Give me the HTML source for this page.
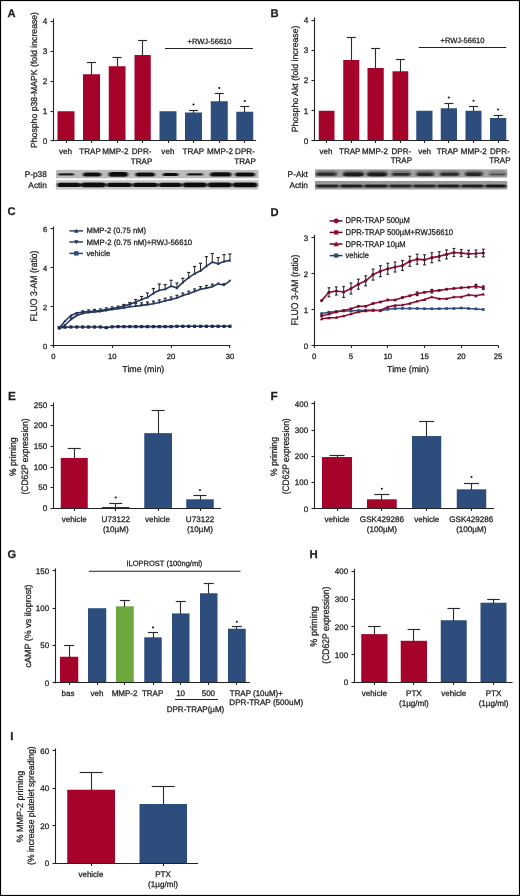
<!DOCTYPE html>
<html><head><meta charset="utf-8"><title>Figure</title>
<style>
html,body{margin:0;padding:0;background:#fff;}
body{width:520px;height:896px;overflow:hidden;}
svg{display:block;will-change:transform;}
text{font-family:"Liberation Sans", sans-serif;fill:#1e1e1e;stroke:#1e1e1e;stroke-width:0.26px;text-rendering:geometricPrecision;}
</style></head>
<body>
<svg width="520" height="896" viewBox="0 0 520 896">
<defs><filter id="bl" x="-10%" y="-60%" width="120%" height="220%"><feGaussianBlur stdDeviation="0.9 0.7"/></filter></defs>
<rect x="0" y="0" width="520" height="896" fill="#fff"/>
<text x="7.50" y="17.00" font-size="11.2" font-weight="bold">A</text>
<line x1="53.50" y1="18.50" x2="53.50" y2="141.25" stroke="#222" stroke-width="1.1"/>
<line x1="50.50" y1="21.50" x2="53.50" y2="21.50" stroke="#222" stroke-width="1.1"/>
<text x="47.20" y="23.90" font-size="8.2" text-anchor="end">4</text>
<line x1="50.50" y1="51.50" x2="53.50" y2="51.50" stroke="#222" stroke-width="1.1"/>
<text x="47.20" y="53.90" font-size="8.2" text-anchor="end">3</text>
<line x1="50.50" y1="81.50" x2="53.50" y2="81.50" stroke="#222" stroke-width="1.1"/>
<text x="47.20" y="83.90" font-size="8.2" text-anchor="end">2</text>
<line x1="50.50" y1="111.50" x2="53.50" y2="111.50" stroke="#222" stroke-width="1.1"/>
<text x="47.20" y="113.90" font-size="8.2" text-anchor="end">1</text>
<line x1="50.50" y1="140.50" x2="53.50" y2="140.50" stroke="#222" stroke-width="1.1"/>
<text x="47.20" y="143.65" font-size="8.2" text-anchor="end">0</text>
<rect x="57.50" y="111.25" width="17.00" height="29.50" fill="#a5032a"/>
<rect x="83.00" y="74.25" width="17.00" height="66.50" fill="#a5032a"/>
<line x1="91.50" y1="62.50" x2="91.50" y2="74.75" stroke="#2a2a2a" stroke-width="1.1"/>
<line x1="87.00" y1="62.50" x2="96.00" y2="62.50" stroke="#2a2a2a" stroke-width="1.15"/>
<rect x="108.75" y="66.25" width="16.75" height="74.50" fill="#a5032a"/>
<line x1="117.50" y1="57.50" x2="117.50" y2="66.75" stroke="#2a2a2a" stroke-width="1.1"/>
<line x1="112.62" y1="57.50" x2="121.62" y2="57.50" stroke="#2a2a2a" stroke-width="1.15"/>
<rect x="134.50" y="55.00" width="16.25" height="85.75" fill="#a5032a"/>
<line x1="142.50" y1="40.50" x2="142.50" y2="55.50" stroke="#2a2a2a" stroke-width="1.1"/>
<line x1="138.12" y1="40.50" x2="147.12" y2="40.50" stroke="#2a2a2a" stroke-width="1.15"/>
<rect x="159.50" y="111.25" width="17.00" height="29.50" fill="#2d4e7d"/>
<rect x="185.00" y="112.50" width="17.00" height="28.25" fill="#2d4e7d"/>
<line x1="193.50" y1="110.50" x2="193.50" y2="113.00" stroke="#2a2a2a" stroke-width="1.1"/>
<line x1="189.00" y1="110.50" x2="198.00" y2="110.50" stroke="#2a2a2a" stroke-width="1.15"/>
<circle cx="193.50" cy="104.50" r="1.1" fill="#1e1e1e"/>
<rect x="210.75" y="101.25" width="17.00" height="39.50" fill="#2d4e7d"/>
<line x1="219.50" y1="93.50" x2="219.50" y2="101.75" stroke="#2a2a2a" stroke-width="1.1"/>
<line x1="214.75" y1="93.50" x2="223.75" y2="93.50" stroke="#2a2a2a" stroke-width="1.15"/>
<circle cx="219.25" cy="88.00" r="1.1" fill="#1e1e1e"/>
<rect x="236.25" y="111.75" width="17.00" height="29.00" fill="#2d4e7d"/>
<line x1="244.50" y1="106.50" x2="244.50" y2="112.25" stroke="#2a2a2a" stroke-width="1.1"/>
<line x1="240.25" y1="106.50" x2="249.25" y2="106.50" stroke="#2a2a2a" stroke-width="1.15"/>
<circle cx="244.75" cy="101.00" r="1.1" fill="#1e1e1e"/>
<line x1="53.00" y1="140.50" x2="256.00" y2="140.50" stroke="#222" stroke-width="1.1"/>
<line x1="66.50" y1="140.50" x2="66.50" y2="143.00" stroke="#222" stroke-width="1.1"/>
<line x1="91.50" y1="140.50" x2="91.50" y2="143.00" stroke="#222" stroke-width="1.1"/>
<line x1="117.50" y1="140.50" x2="117.50" y2="143.00" stroke="#222" stroke-width="1.1"/>
<line x1="142.50" y1="140.50" x2="142.50" y2="143.00" stroke="#222" stroke-width="1.1"/>
<line x1="168.50" y1="140.50" x2="168.50" y2="143.00" stroke="#222" stroke-width="1.1"/>
<line x1="193.50" y1="140.50" x2="193.50" y2="143.00" stroke="#222" stroke-width="1.1"/>
<line x1="219.50" y1="140.50" x2="219.50" y2="143.00" stroke="#222" stroke-width="1.1"/>
<line x1="244.50" y1="140.50" x2="244.50" y2="143.00" stroke="#222" stroke-width="1.1"/>
<text x="37.10" y="80.00" font-size="8.8" text-anchor="middle" textLength="136" lengthAdjust="spacingAndGlyphs" transform="rotate(-90 37.10 80.00)">Phospho p38-MAPK (fold increase)</text>
<line x1="165.00" y1="48.50" x2="253.00" y2="48.50" stroke="#222" stroke-width="1.05"/>
<text x="209.50" y="43.60" font-size="7.6" text-anchor="middle" textLength="44" lengthAdjust="spacingAndGlyphs">+RWJ-56610</text>
<text x="65.50" y="154.00" font-size="8.1" text-anchor="middle">veh</text>
<text x="90.00" y="154.00" font-size="8.1" text-anchor="middle">TRAP</text>
<text x="115.40" y="154.00" font-size="8.1" text-anchor="middle">MMP-2</text>
<text x="141.60" y="154.00" font-size="8.1" text-anchor="middle">DPR-</text>
<text x="141.60" y="163.80" font-size="8.1" text-anchor="middle">TRAP</text>
<text x="167.90" y="154.00" font-size="8.1" text-anchor="middle">veh</text>
<text x="193.30" y="154.00" font-size="8.1" text-anchor="middle">TRAP</text>
<text x="220.00" y="154.00" font-size="8.1" text-anchor="middle">MMP-2</text>
<text x="245.00" y="154.00" font-size="8.1" text-anchor="middle">DPR-</text>
<text x="245.00" y="163.80" font-size="8.1" text-anchor="middle">TRAP</text>
<rect x="56.00" y="169.90" width="202.50" height="8.40" fill="#bcbcbc"/>
<g filter="url(#bl)">
<rect x="58.00" y="173.30" width="16.20" height="2.20" rx="1.76" ry="1.10" fill="#111" fill-opacity="0.9"/>
<rect x="82.90" y="172.40" width="18.40" height="4.00" rx="3.20" ry="2.00" fill="#111" fill-opacity="1"/>
<rect x="108.50" y="172.10" width="19.50" height="4.60" rx="3.68" ry="2.30" fill="#111" fill-opacity="1"/>
<rect x="135.50" y="172.40" width="19.50" height="4.00" rx="3.20" ry="2.00" fill="#111" fill-opacity="1"/>
<rect x="162.50" y="172.90" width="16.10" height="3.00" rx="2.40" ry="1.50" fill="#111" fill-opacity="1"/>
<rect x="187.00" y="173.20" width="16.00" height="2.40" rx="1.92" ry="1.20" fill="#111" fill-opacity="0.95"/>
<rect x="210.00" y="172.20" width="21.50" height="4.40" rx="3.52" ry="2.20" fill="#111" fill-opacity="1"/>
<rect x="235.00" y="172.40" width="20.00" height="4.00" rx="3.20" ry="2.00" fill="#111" fill-opacity="1"/>
</g>
<rect x="56.00" y="180.20" width="202.50" height="9.40" fill="#c8c8c8"/>
<g filter="url(#bl)">
<rect x="57.00" y="182.70" width="24.00" height="4.40" rx="3.52" ry="2.20" fill="#111" fill-opacity="1"/>
<rect x="81.00" y="182.50" width="25.00" height="4.80" rx="3.84" ry="2.40" fill="#111" fill-opacity="1"/>
<rect x="106.50" y="182.70" width="25.50" height="4.40" rx="3.52" ry="2.20" fill="#111" fill-opacity="1"/>
<rect x="132.50" y="182.70" width="25.50" height="4.40" rx="3.52" ry="2.20" fill="#111" fill-opacity="1"/>
<rect x="158.50" y="182.70" width="23.50" height="4.40" rx="3.52" ry="2.20" fill="#111" fill-opacity="1"/>
<rect x="182.50" y="182.50" width="24.50" height="4.80" rx="3.84" ry="2.40" fill="#111" fill-opacity="1"/>
<rect x="207.50" y="182.60" width="24.50" height="4.60" rx="3.68" ry="2.30" fill="#111" fill-opacity="1"/>
<rect x="232.50" y="182.50" width="25.00" height="4.80" rx="3.84" ry="2.40" fill="#111" fill-opacity="1"/>
</g>
<text x="46.80" y="176.50" font-size="8.3" text-anchor="end">P-p38</text>
<text x="46.80" y="187.90" font-size="8.3" text-anchor="end">Actin</text>
<text x="270.60" y="17.00" font-size="11.2" font-weight="bold">B</text>
<line x1="314.50" y1="17.50" x2="314.50" y2="141.25" stroke="#222" stroke-width="1.1"/>
<line x1="311.50" y1="20.50" x2="314.50" y2="20.50" stroke="#222" stroke-width="1.1"/>
<text x="308.20" y="22.90" font-size="8.2" text-anchor="end">4</text>
<line x1="311.50" y1="50.50" x2="314.50" y2="50.50" stroke="#222" stroke-width="1.1"/>
<text x="308.20" y="53.10" font-size="8.2" text-anchor="end">3</text>
<line x1="311.50" y1="80.50" x2="314.50" y2="80.50" stroke="#222" stroke-width="1.1"/>
<text x="308.20" y="83.30" font-size="8.2" text-anchor="end">2</text>
<line x1="311.50" y1="110.50" x2="314.50" y2="110.50" stroke="#222" stroke-width="1.1"/>
<text x="308.20" y="113.50" font-size="8.2" text-anchor="end">1</text>
<line x1="311.50" y1="140.50" x2="314.50" y2="140.50" stroke="#222" stroke-width="1.1"/>
<text x="308.20" y="143.65" font-size="8.2" text-anchor="end">0</text>
<rect x="318.75" y="110.75" width="15.75" height="30.00" fill="#a5032a"/>
<rect x="343.25" y="60.00" width="16.00" height="80.75" fill="#a5032a"/>
<line x1="351.50" y1="37.50" x2="351.50" y2="60.50" stroke="#2a2a2a" stroke-width="1.1"/>
<line x1="346.75" y1="37.50" x2="355.75" y2="37.50" stroke="#2a2a2a" stroke-width="1.15"/>
<rect x="367.50" y="68.00" width="16.25" height="72.75" fill="#a5032a"/>
<line x1="375.50" y1="48.50" x2="375.50" y2="68.50" stroke="#2a2a2a" stroke-width="1.1"/>
<line x1="371.12" y1="48.50" x2="380.12" y2="48.50" stroke="#2a2a2a" stroke-width="1.15"/>
<rect x="392.50" y="71.25" width="15.75" height="69.50" fill="#a5032a"/>
<line x1="400.50" y1="59.50" x2="400.50" y2="71.75" stroke="#2a2a2a" stroke-width="1.1"/>
<line x1="395.88" y1="59.50" x2="404.88" y2="59.50" stroke="#2a2a2a" stroke-width="1.15"/>
<rect x="416.25" y="110.75" width="16.25" height="30.00" fill="#2d4e7d"/>
<rect x="440.75" y="108.25" width="16.25" height="32.50" fill="#2d4e7d"/>
<line x1="448.50" y1="103.50" x2="448.50" y2="108.75" stroke="#2a2a2a" stroke-width="1.1"/>
<line x1="444.38" y1="103.50" x2="453.38" y2="103.50" stroke="#2a2a2a" stroke-width="1.15"/>
<circle cx="448.88" cy="97.50" r="1.1" fill="#1e1e1e"/>
<rect x="465.50" y="110.75" width="16.00" height="30.00" fill="#2d4e7d"/>
<line x1="473.50" y1="106.50" x2="473.50" y2="111.25" stroke="#2a2a2a" stroke-width="1.1"/>
<line x1="469.00" y1="106.50" x2="478.00" y2="106.50" stroke="#2a2a2a" stroke-width="1.15"/>
<circle cx="473.50" cy="100.75" r="1.1" fill="#1e1e1e"/>
<rect x="490.00" y="118.00" width="16.25" height="22.75" fill="#2d4e7d"/>
<line x1="498.50" y1="115.50" x2="498.50" y2="118.50" stroke="#2a2a2a" stroke-width="1.1"/>
<line x1="493.62" y1="115.50" x2="502.62" y2="115.50" stroke="#2a2a2a" stroke-width="1.15"/>
<circle cx="498.12" cy="109.50" r="1.1" fill="#1e1e1e"/>
<line x1="314.00" y1="140.50" x2="509.00" y2="140.50" stroke="#222" stroke-width="1.1"/>
<line x1="326.50" y1="140.50" x2="326.50" y2="143.00" stroke="#222" stroke-width="1.1"/>
<line x1="351.50" y1="140.50" x2="351.50" y2="143.00" stroke="#222" stroke-width="1.1"/>
<line x1="375.50" y1="140.50" x2="375.50" y2="143.00" stroke="#222" stroke-width="1.1"/>
<line x1="400.50" y1="140.50" x2="400.50" y2="143.00" stroke="#222" stroke-width="1.1"/>
<line x1="424.50" y1="140.50" x2="424.50" y2="143.00" stroke="#222" stroke-width="1.1"/>
<line x1="448.50" y1="140.50" x2="448.50" y2="143.00" stroke="#222" stroke-width="1.1"/>
<line x1="473.50" y1="140.50" x2="473.50" y2="143.00" stroke="#222" stroke-width="1.1"/>
<line x1="498.50" y1="140.50" x2="498.50" y2="143.00" stroke="#222" stroke-width="1.1"/>
<text x="298.10" y="78.90" font-size="8.9" text-anchor="middle" textLength="106.8" lengthAdjust="spacingAndGlyphs" transform="rotate(-90 298.10 78.90)">Phospho Akt (fold increase)</text>
<line x1="418.75" y1="47.50" x2="506.25" y2="47.50" stroke="#222" stroke-width="1.05"/>
<text x="462.50" y="42.80" font-size="7.6" text-anchor="middle" textLength="44" lengthAdjust="spacingAndGlyphs">+RWJ-56610</text>
<text x="325.90" y="153.80" font-size="8.0" text-anchor="middle">veh</text>
<text x="349.70" y="153.80" font-size="8.0" text-anchor="middle">TRAP</text>
<text x="375.00" y="153.80" font-size="8.0" text-anchor="middle">MMP-2</text>
<text x="401.30" y="153.80" font-size="8.0" text-anchor="middle">DPR-</text>
<text x="401.30" y="163.20" font-size="8.0" text-anchor="middle">TRAP</text>
<text x="424.60" y="153.80" font-size="8.0" text-anchor="middle">veh</text>
<text x="447.40" y="153.80" font-size="8.0" text-anchor="middle">TRAP</text>
<text x="473.70" y="153.80" font-size="8.0" text-anchor="middle">MMP-2</text>
<text x="499.80" y="153.80" font-size="8.0" text-anchor="middle">DPR-</text>
<text x="499.80" y="163.20" font-size="8.0" text-anchor="middle">TRAP</text>
<rect x="315.00" y="169.30" width="192.20" height="8.30" fill="#a4a4a4"/>
<g filter="url(#bl)">
<rect x="316.00" y="170.60" width="22.00" height="6.00" rx="4.80" ry="3.00" fill="#222" fill-opacity="0.35"/>
<rect x="342.50" y="170.60" width="22.00" height="6.00" rx="4.80" ry="3.00" fill="#222" fill-opacity="0.4"/>
<rect x="366.50" y="170.60" width="21.50" height="6.00" rx="4.80" ry="3.00" fill="#222" fill-opacity="0.4"/>
<rect x="391.00" y="170.60" width="20.50" height="6.00" rx="4.80" ry="3.00" fill="#222" fill-opacity="0.3"/>
<rect x="415.50" y="170.60" width="19.50" height="6.00" rx="4.80" ry="3.00" fill="#222" fill-opacity="0.35"/>
<rect x="439.00" y="170.60" width="21.00" height="6.00" rx="4.80" ry="3.00" fill="#222" fill-opacity="0.3"/>
<rect x="464.50" y="170.60" width="19.00" height="6.00" rx="4.80" ry="3.00" fill="#222" fill-opacity="0.35"/>
<rect x="488.50" y="170.60" width="18.00" height="6.00" rx="4.80" ry="3.00" fill="#222" fill-opacity="0.2"/>
</g>
<g>
<g filter="url(#bl)">
<rect x="316.00" y="172.80" width="20.00" height="3.00" rx="2.40" ry="1.50" fill="#151515" fill-opacity="0.75"/>
<rect x="343.40" y="172.40" width="20.10" height="3.80" rx="3.04" ry="1.90" fill="#151515" fill-opacity="0.95"/>
<rect x="367.30" y="172.40" width="19.40" height="3.80" rx="3.04" ry="1.90" fill="#151515" fill-opacity="0.95"/>
<rect x="392.00" y="172.90" width="18.30" height="2.80" rx="2.24" ry="1.40" fill="#151515" fill-opacity="0.75"/>
<rect x="416.60" y="172.70" width="17.00" height="3.20" rx="2.56" ry="1.60" fill="#151515" fill-opacity="0.8"/>
<rect x="440.00" y="172.80" width="19.00" height="3.00" rx="2.40" ry="1.50" fill="#151515" fill-opacity="0.75"/>
<rect x="465.30" y="172.60" width="16.90" height="3.40" rx="2.72" ry="1.70" fill="#151515" fill-opacity="0.85"/>
<rect x="489.60" y="173.40" width="15.90" height="1.80" rx="1.44" ry="0.90" fill="#151515" fill-opacity="0.55"/>
</g>
</g>
<rect x="315.00" y="181.00" width="192.20" height="8.50" fill="#999999"/>
<g filter="url(#bl)">
<rect x="316.00" y="184.60" width="23.00" height="2.80" rx="2.24" ry="1.40" fill="#101010" fill-opacity="0.85"/>
<rect x="340.00" y="184.50" width="23.00" height="3.00" rx="2.40" ry="1.50" fill="#101010" fill-opacity="0.9"/>
<rect x="364.00" y="184.50" width="24.00" height="3.00" rx="2.40" ry="1.50" fill="#101010" fill-opacity="0.9"/>
<rect x="389.00" y="184.60" width="23.00" height="2.80" rx="2.24" ry="1.40" fill="#101010" fill-opacity="0.85"/>
<rect x="413.00" y="184.60" width="23.00" height="2.80" rx="2.24" ry="1.40" fill="#101010" fill-opacity="0.85"/>
<rect x="437.00" y="184.50" width="23.00" height="3.00" rx="2.40" ry="1.50" fill="#101010" fill-opacity="0.9"/>
<rect x="461.00" y="184.50" width="23.00" height="3.00" rx="2.40" ry="1.50" fill="#101010" fill-opacity="0.9"/>
<rect x="485.00" y="184.40" width="21.50" height="3.20" rx="2.56" ry="1.60" fill="#101010" fill-opacity="0.95"/>
</g>
<text x="307.90" y="176.70" font-size="8.3" text-anchor="end">P-Akt</text>
<text x="307.90" y="187.70" font-size="8.3" text-anchor="end">Actin</text>
<text x="7.40" y="215.00" font-size="11.2" font-weight="bold">C</text>
<line x1="53.50" y1="226.40" x2="53.50" y2="346.10" stroke="#222" stroke-width="1.1"/>
<line x1="50.50" y1="228.50" x2="53.50" y2="228.50" stroke="#222" stroke-width="1.1"/>
<text x="47.20" y="231.80" font-size="7.5" text-anchor="end">6</text>
<line x1="50.50" y1="267.50" x2="53.50" y2="267.50" stroke="#222" stroke-width="1.1"/>
<text x="47.20" y="270.70" font-size="7.5" text-anchor="end">4</text>
<line x1="50.50" y1="306.50" x2="53.50" y2="306.50" stroke="#222" stroke-width="1.1"/>
<text x="47.20" y="309.60" font-size="7.5" text-anchor="end">2</text>
<line x1="50.50" y1="345.50" x2="53.50" y2="345.50" stroke="#222" stroke-width="1.1"/>
<text x="47.20" y="348.50" font-size="7.5" text-anchor="end">0</text>
<line x1="53.00" y1="345.50" x2="230.45" y2="345.50" stroke="#222" stroke-width="1.1"/>
<line x1="53.50" y1="345.50" x2="53.50" y2="348.00" stroke="#222" stroke-width="1.1"/>
<line x1="112.50" y1="345.50" x2="112.50" y2="348.00" stroke="#222" stroke-width="1.1"/>
<line x1="171.50" y1="345.50" x2="171.50" y2="348.00" stroke="#222" stroke-width="1.1"/>
<line x1="229.50" y1="345.50" x2="229.50" y2="348.00" stroke="#222" stroke-width="1.1"/>
<text x="53.25" y="358.60" font-size="7.6" text-anchor="middle">0</text>
<text x="112.15" y="358.60" font-size="7.6" text-anchor="middle">10</text>
<text x="171.05" y="358.60" font-size="7.6" text-anchor="middle">20</text>
<text x="229.95" y="358.60" font-size="7.6" text-anchor="middle">30</text>
<text x="143.30" y="372.20" font-size="8.7" text-anchor="middle" textLength="42.0" lengthAdjust="spacingAndGlyphs">Time (min)</text>
<text x="36.90" y="286.00" font-size="9.7" text-anchor="middle" textLength="71" lengthAdjust="spacingAndGlyphs" transform="rotate(-90 36.90 286.00)">FLUO 3-AM (ratio)</text>
<polyline points="59.14,327.60 65.03,327.20 70.92,327.00 76.81,327.00 82.70,327.00 88.59,327.00 94.48,327.00 100.37,327.00 106.26,327.60 112.15,326.80 118.04,326.60 123.93,326.60 129.82,326.60 135.71,326.60 141.60,326.60 147.49,326.60 153.38,326.60 159.27,326.60 165.16,326.60 171.05,326.60 176.94,326.30 182.83,326.30 188.72,326.30 194.61,326.30 200.50,326.30 206.39,326.30 212.28,326.30 218.17,326.30 224.06,326.30 229.95,326.30" fill="none" stroke="#22345a" stroke-width="1.6" stroke-linejoin="round"/>
<rect x="57.52" y="325.99" width="3.23" height="3.23" fill="#1f2e50"/>
<rect x="63.41" y="325.58" width="3.23" height="3.23" fill="#1f2e50"/>
<rect x="69.31" y="325.38" width="3.23" height="3.23" fill="#1f2e50"/>
<rect x="75.20" y="325.38" width="3.23" height="3.23" fill="#1f2e50"/>
<rect x="81.09" y="325.38" width="3.23" height="3.23" fill="#1f2e50"/>
<rect x="86.98" y="325.38" width="3.23" height="3.23" fill="#1f2e50"/>
<rect x="92.86" y="325.38" width="3.23" height="3.23" fill="#1f2e50"/>
<rect x="98.76" y="325.38" width="3.23" height="3.23" fill="#1f2e50"/>
<rect x="104.64" y="325.99" width="3.23" height="3.23" fill="#1f2e50"/>
<rect x="110.54" y="325.19" width="3.23" height="3.23" fill="#1f2e50"/>
<rect x="116.42" y="324.99" width="3.23" height="3.23" fill="#1f2e50"/>
<rect x="122.31" y="324.99" width="3.23" height="3.23" fill="#1f2e50"/>
<rect x="128.20" y="324.99" width="3.23" height="3.23" fill="#1f2e50"/>
<rect x="134.09" y="324.99" width="3.23" height="3.23" fill="#1f2e50"/>
<rect x="139.98" y="324.99" width="3.23" height="3.23" fill="#1f2e50"/>
<rect x="145.88" y="324.99" width="3.23" height="3.23" fill="#1f2e50"/>
<rect x="151.76" y="324.99" width="3.23" height="3.23" fill="#1f2e50"/>
<rect x="157.65" y="324.99" width="3.23" height="3.23" fill="#1f2e50"/>
<rect x="163.54" y="324.99" width="3.23" height="3.23" fill="#1f2e50"/>
<rect x="169.44" y="324.99" width="3.23" height="3.23" fill="#1f2e50"/>
<rect x="175.32" y="324.69" width="3.23" height="3.23" fill="#1f2e50"/>
<rect x="181.21" y="324.69" width="3.23" height="3.23" fill="#1f2e50"/>
<rect x="187.10" y="324.69" width="3.23" height="3.23" fill="#1f2e50"/>
<rect x="192.99" y="324.69" width="3.23" height="3.23" fill="#1f2e50"/>
<rect x="198.88" y="324.69" width="3.23" height="3.23" fill="#1f2e50"/>
<rect x="204.77" y="324.69" width="3.23" height="3.23" fill="#1f2e50"/>
<rect x="210.66" y="324.69" width="3.23" height="3.23" fill="#1f2e50"/>
<rect x="216.55" y="324.69" width="3.23" height="3.23" fill="#1f2e50"/>
<rect x="222.44" y="324.69" width="3.23" height="3.23" fill="#1f2e50"/>
<rect x="228.33" y="324.69" width="3.23" height="3.23" fill="#1f2e50"/>
<line x1="70.92" y1="316.90" x2="70.92" y2="319.50" stroke="#2a2a2a" stroke-width="1.05"/>
<line x1="69.42" y1="316.90" x2="72.42" y2="316.90" stroke="#2a2a2a" stroke-width="1.2"/>
<line x1="76.81" y1="312.90" x2="76.81" y2="315.50" stroke="#2a2a2a" stroke-width="1.05"/>
<line x1="75.31" y1="312.90" x2="78.31" y2="312.90" stroke="#2a2a2a" stroke-width="1.2"/>
<line x1="82.70" y1="310.90" x2="82.70" y2="313.50" stroke="#2a2a2a" stroke-width="1.05"/>
<line x1="81.20" y1="310.90" x2="84.20" y2="310.90" stroke="#2a2a2a" stroke-width="1.2"/>
<line x1="88.59" y1="309.90" x2="88.59" y2="312.50" stroke="#2a2a2a" stroke-width="1.05"/>
<line x1="87.09" y1="309.90" x2="90.09" y2="309.90" stroke="#2a2a2a" stroke-width="1.2"/>
<line x1="94.48" y1="309.40" x2="94.48" y2="312.00" stroke="#2a2a2a" stroke-width="1.05"/>
<line x1="92.98" y1="309.40" x2="95.98" y2="309.40" stroke="#2a2a2a" stroke-width="1.2"/>
<line x1="100.37" y1="308.90" x2="100.37" y2="311.50" stroke="#2a2a2a" stroke-width="1.05"/>
<line x1="98.87" y1="308.90" x2="101.87" y2="308.90" stroke="#2a2a2a" stroke-width="1.2"/>
<line x1="106.26" y1="307.90" x2="106.26" y2="310.50" stroke="#2a2a2a" stroke-width="1.05"/>
<line x1="104.76" y1="307.90" x2="107.76" y2="307.90" stroke="#2a2a2a" stroke-width="1.2"/>
<line x1="112.15" y1="306.90" x2="112.15" y2="309.50" stroke="#2a2a2a" stroke-width="1.05"/>
<line x1="110.65" y1="306.90" x2="113.65" y2="306.90" stroke="#2a2a2a" stroke-width="1.2"/>
<line x1="118.04" y1="306.10" x2="118.04" y2="308.70" stroke="#2a2a2a" stroke-width="1.05"/>
<line x1="116.54" y1="306.10" x2="119.54" y2="306.10" stroke="#2a2a2a" stroke-width="1.2"/>
<line x1="123.93" y1="305.30" x2="123.93" y2="307.90" stroke="#2a2a2a" stroke-width="1.05"/>
<line x1="122.43" y1="305.30" x2="125.43" y2="305.30" stroke="#2a2a2a" stroke-width="1.2"/>
<line x1="129.82" y1="304.20" x2="129.82" y2="306.80" stroke="#2a2a2a" stroke-width="1.05"/>
<line x1="128.32" y1="304.20" x2="131.32" y2="304.20" stroke="#2a2a2a" stroke-width="1.2"/>
<line x1="135.71" y1="303.60" x2="135.71" y2="306.20" stroke="#2a2a2a" stroke-width="1.05"/>
<line x1="134.21" y1="303.60" x2="137.21" y2="303.60" stroke="#2a2a2a" stroke-width="1.2"/>
<line x1="141.60" y1="302.80" x2="141.60" y2="305.40" stroke="#2a2a2a" stroke-width="1.05"/>
<line x1="140.10" y1="302.80" x2="143.10" y2="302.80" stroke="#2a2a2a" stroke-width="1.2"/>
<line x1="147.49" y1="302.00" x2="147.49" y2="304.60" stroke="#2a2a2a" stroke-width="1.05"/>
<line x1="145.99" y1="302.00" x2="148.99" y2="302.00" stroke="#2a2a2a" stroke-width="1.2"/>
<line x1="153.38" y1="301.10" x2="153.38" y2="303.70" stroke="#2a2a2a" stroke-width="1.05"/>
<line x1="151.88" y1="301.10" x2="154.88" y2="301.10" stroke="#2a2a2a" stroke-width="1.2"/>
<line x1="159.27" y1="299.90" x2="159.27" y2="302.50" stroke="#2a2a2a" stroke-width="1.05"/>
<line x1="157.77" y1="299.90" x2="160.77" y2="299.90" stroke="#2a2a2a" stroke-width="1.2"/>
<line x1="165.16" y1="298.20" x2="165.16" y2="300.80" stroke="#2a2a2a" stroke-width="1.05"/>
<line x1="163.66" y1="298.20" x2="166.66" y2="298.20" stroke="#2a2a2a" stroke-width="1.2"/>
<line x1="171.05" y1="297.00" x2="171.05" y2="299.60" stroke="#2a2a2a" stroke-width="1.05"/>
<line x1="169.55" y1="297.00" x2="172.55" y2="297.00" stroke="#2a2a2a" stroke-width="1.2"/>
<line x1="176.94" y1="295.30" x2="176.94" y2="297.90" stroke="#2a2a2a" stroke-width="1.05"/>
<line x1="175.44" y1="295.30" x2="178.44" y2="295.30" stroke="#2a2a2a" stroke-width="1.2"/>
<line x1="182.83" y1="293.00" x2="182.83" y2="295.60" stroke="#2a2a2a" stroke-width="1.05"/>
<line x1="181.33" y1="293.00" x2="184.33" y2="293.00" stroke="#2a2a2a" stroke-width="1.2"/>
<line x1="188.72" y1="291.20" x2="188.72" y2="293.80" stroke="#2a2a2a" stroke-width="1.05"/>
<line x1="187.22" y1="291.20" x2="190.22" y2="291.20" stroke="#2a2a2a" stroke-width="1.2"/>
<line x1="194.61" y1="288.90" x2="194.61" y2="291.50" stroke="#2a2a2a" stroke-width="1.05"/>
<line x1="193.11" y1="288.90" x2="196.11" y2="288.90" stroke="#2a2a2a" stroke-width="1.2"/>
<line x1="200.50" y1="286.60" x2="200.50" y2="289.20" stroke="#2a2a2a" stroke-width="1.05"/>
<line x1="199.00" y1="286.60" x2="202.00" y2="286.60" stroke="#2a2a2a" stroke-width="1.2"/>
<line x1="206.39" y1="285.50" x2="206.39" y2="288.10" stroke="#2a2a2a" stroke-width="1.05"/>
<line x1="204.89" y1="285.50" x2="207.89" y2="285.50" stroke="#2a2a2a" stroke-width="1.2"/>
<line x1="212.28" y1="284.10" x2="212.28" y2="286.70" stroke="#2a2a2a" stroke-width="1.05"/>
<line x1="210.78" y1="284.10" x2="213.78" y2="284.10" stroke="#2a2a2a" stroke-width="1.2"/>
<line x1="224.06" y1="283.70" x2="224.06" y2="285.20" stroke="#2a2a2a" stroke-width="1.05"/>
<line x1="222.56" y1="283.70" x2="225.56" y2="283.70" stroke="#2a2a2a" stroke-width="1.2"/>
<polyline points="59.14,329.00 65.03,325.00 70.92,319.50 76.81,315.50 82.70,313.50 88.59,312.50 94.48,312.00 100.37,311.50 106.26,310.50 112.15,309.50 118.04,308.70 123.93,307.90 129.82,306.80 135.71,306.20 141.60,305.40 147.49,304.60 153.38,303.70 159.27,302.50 165.16,300.80 171.05,299.60 176.94,297.90 182.83,295.60 188.72,293.80 194.61,291.50 200.50,289.20 206.39,288.10 212.28,286.70 218.17,283.70 224.06,285.20 229.95,280.90" fill="none" stroke="#23365d" stroke-width="1.6" stroke-linejoin="round"/>
<path d="M57.74 327.88L60.54 327.88L59.14 330.40Z" fill="#23365d"/>
<path d="M63.63 323.88L66.43 323.88L65.03 326.40Z" fill="#23365d"/>
<path d="M69.52 318.38L72.32 318.38L70.92 320.90Z" fill="#23365d"/>
<path d="M75.41 314.38L78.21 314.38L76.81 316.90Z" fill="#23365d"/>
<path d="M81.30 312.38L84.10 312.38L82.70 314.90Z" fill="#23365d"/>
<path d="M87.19 311.38L89.99 311.38L88.59 313.90Z" fill="#23365d"/>
<path d="M93.08 310.88L95.88 310.88L94.48 313.40Z" fill="#23365d"/>
<path d="M98.97 310.38L101.77 310.38L100.37 312.90Z" fill="#23365d"/>
<path d="M104.86 309.38L107.66 309.38L106.26 311.90Z" fill="#23365d"/>
<path d="M110.75 308.38L113.55 308.38L112.15 310.90Z" fill="#23365d"/>
<path d="M116.64 307.58L119.44 307.58L118.04 310.10Z" fill="#23365d"/>
<path d="M122.53 306.78L125.33 306.78L123.93 309.30Z" fill="#23365d"/>
<path d="M128.42 305.68L131.22 305.68L129.82 308.20Z" fill="#23365d"/>
<path d="M134.31 305.08L137.11 305.08L135.71 307.60Z" fill="#23365d"/>
<path d="M140.20 304.28L143.00 304.28L141.60 306.80Z" fill="#23365d"/>
<path d="M146.09 303.48L148.89 303.48L147.49 306.00Z" fill="#23365d"/>
<path d="M151.98 302.58L154.78 302.58L153.38 305.10Z" fill="#23365d"/>
<path d="M157.87 301.38L160.67 301.38L159.27 303.90Z" fill="#23365d"/>
<path d="M163.76 299.68L166.56 299.68L165.16 302.20Z" fill="#23365d"/>
<path d="M169.65 298.48L172.45 298.48L171.05 301.00Z" fill="#23365d"/>
<path d="M175.54 296.78L178.34 296.78L176.94 299.30Z" fill="#23365d"/>
<path d="M181.43 294.48L184.23 294.48L182.83 297.00Z" fill="#23365d"/>
<path d="M187.32 292.68L190.12 292.68L188.72 295.20Z" fill="#23365d"/>
<path d="M193.21 290.38L196.01 290.38L194.61 292.90Z" fill="#23365d"/>
<path d="M199.10 288.08L201.90 288.08L200.50 290.60Z" fill="#23365d"/>
<path d="M204.99 286.98L207.79 286.98L206.39 289.50Z" fill="#23365d"/>
<path d="M210.88 285.58L213.68 285.58L212.28 288.10Z" fill="#23365d"/>
<path d="M216.77 282.58L219.57 282.58L218.17 285.10Z" fill="#23365d"/>
<path d="M222.66 284.08L225.46 284.08L224.06 286.60Z" fill="#23365d"/>
<path d="M228.55 279.78L231.35 279.78L229.95 282.30Z" fill="#23365d"/>
<line x1="123.93" y1="304.50" x2="123.93" y2="306.00" stroke="#2a2a2a" stroke-width="1.05"/>
<line x1="122.33" y1="304.50" x2="125.53" y2="304.50" stroke="#2a2a2a" stroke-width="1.2"/>
<line x1="129.82" y1="302.50" x2="129.82" y2="304.20" stroke="#2a2a2a" stroke-width="1.05"/>
<line x1="128.22" y1="302.50" x2="131.42" y2="302.50" stroke="#2a2a2a" stroke-width="1.2"/>
<line x1="135.71" y1="299.50" x2="135.71" y2="301.90" stroke="#2a2a2a" stroke-width="1.05"/>
<line x1="134.11" y1="299.50" x2="137.31" y2="299.50" stroke="#2a2a2a" stroke-width="1.2"/>
<line x1="141.60" y1="296.50" x2="141.60" y2="299.40" stroke="#2a2a2a" stroke-width="1.05"/>
<line x1="140.00" y1="296.50" x2="143.20" y2="296.50" stroke="#2a2a2a" stroke-width="1.2"/>
<line x1="147.49" y1="293.00" x2="147.49" y2="297.30" stroke="#2a2a2a" stroke-width="1.05"/>
<line x1="145.89" y1="293.00" x2="149.09" y2="293.00" stroke="#2a2a2a" stroke-width="1.2"/>
<line x1="153.38" y1="288.50" x2="153.38" y2="293.30" stroke="#2a2a2a" stroke-width="1.05"/>
<line x1="151.78" y1="288.50" x2="154.98" y2="288.50" stroke="#2a2a2a" stroke-width="1.2"/>
<line x1="159.27" y1="284.00" x2="159.27" y2="290.20" stroke="#2a2a2a" stroke-width="1.05"/>
<line x1="157.67" y1="284.00" x2="160.87" y2="284.00" stroke="#2a2a2a" stroke-width="1.2"/>
<line x1="165.16" y1="284.60" x2="165.16" y2="289.20" stroke="#2a2a2a" stroke-width="1.05"/>
<line x1="163.56" y1="284.60" x2="166.76" y2="284.60" stroke="#2a2a2a" stroke-width="1.2"/>
<line x1="171.05" y1="280.30" x2="171.05" y2="286.10" stroke="#2a2a2a" stroke-width="1.05"/>
<line x1="169.45" y1="280.30" x2="172.65" y2="280.30" stroke="#2a2a2a" stroke-width="1.2"/>
<line x1="176.94" y1="283.00" x2="176.94" y2="288.10" stroke="#2a2a2a" stroke-width="1.05"/>
<line x1="175.34" y1="283.00" x2="178.54" y2="283.00" stroke="#2a2a2a" stroke-width="1.2"/>
<line x1="182.83" y1="278.30" x2="182.83" y2="282.30" stroke="#2a2a2a" stroke-width="1.05"/>
<line x1="181.23" y1="278.30" x2="184.43" y2="278.30" stroke="#2a2a2a" stroke-width="1.2"/>
<line x1="188.72" y1="272.50" x2="188.72" y2="277.70" stroke="#2a2a2a" stroke-width="1.05"/>
<line x1="187.12" y1="272.50" x2="190.32" y2="272.50" stroke="#2a2a2a" stroke-width="1.2"/>
<line x1="194.61" y1="266.50" x2="194.61" y2="273.70" stroke="#2a2a2a" stroke-width="1.05"/>
<line x1="193.01" y1="266.50" x2="196.21" y2="266.50" stroke="#2a2a2a" stroke-width="1.2"/>
<line x1="200.50" y1="263.30" x2="200.50" y2="270.80" stroke="#2a2a2a" stroke-width="1.05"/>
<line x1="198.90" y1="263.30" x2="202.10" y2="263.30" stroke="#2a2a2a" stroke-width="1.2"/>
<line x1="206.39" y1="256.70" x2="206.39" y2="266.20" stroke="#2a2a2a" stroke-width="1.05"/>
<line x1="204.79" y1="256.70" x2="207.99" y2="256.70" stroke="#2a2a2a" stroke-width="1.2"/>
<line x1="212.28" y1="253.50" x2="212.28" y2="262.10" stroke="#2a2a2a" stroke-width="1.05"/>
<line x1="210.68" y1="253.50" x2="213.88" y2="253.50" stroke="#2a2a2a" stroke-width="1.2"/>
<line x1="218.17" y1="257.50" x2="218.17" y2="263.80" stroke="#2a2a2a" stroke-width="1.05"/>
<line x1="216.57" y1="257.50" x2="219.77" y2="257.50" stroke="#2a2a2a" stroke-width="1.2"/>
<line x1="224.06" y1="254.60" x2="224.06" y2="261.50" stroke="#2a2a2a" stroke-width="1.05"/>
<line x1="222.46" y1="254.60" x2="225.66" y2="254.60" stroke="#2a2a2a" stroke-width="1.2"/>
<line x1="229.95" y1="254.00" x2="229.95" y2="260.40" stroke="#2a2a2a" stroke-width="1.05"/>
<line x1="228.35" y1="254.00" x2="231.55" y2="254.00" stroke="#2a2a2a" stroke-width="1.2"/>
<polyline points="59.14,328.00 65.03,321.00 70.92,315.50 76.81,313.00 82.70,312.00 88.59,311.50 94.48,311.00 100.37,310.50 106.26,309.50 112.15,308.50 118.04,307.50 123.93,306.00 129.82,304.20 135.71,301.90 141.60,299.40 147.49,297.30 153.38,293.30 159.27,290.20 165.16,289.20 171.05,286.10 176.94,288.10 182.83,282.30 188.72,277.70 194.61,273.70 200.50,270.80 206.39,266.20 212.28,262.10 218.17,263.80 224.06,261.50 229.95,260.40" fill="none" stroke="#23365d" stroke-width="1.6" stroke-linejoin="round"/>
<path d="M57.74 329.12L60.54 329.12L59.14 326.60Z" fill="#23365d"/>
<path d="M63.63 322.12L66.43 322.12L65.03 319.60Z" fill="#23365d"/>
<path d="M69.52 316.62L72.32 316.62L70.92 314.10Z" fill="#23365d"/>
<path d="M75.41 314.12L78.21 314.12L76.81 311.60Z" fill="#23365d"/>
<path d="M81.30 313.12L84.10 313.12L82.70 310.60Z" fill="#23365d"/>
<path d="M87.19 312.62L89.99 312.62L88.59 310.10Z" fill="#23365d"/>
<path d="M93.08 312.12L95.88 312.12L94.48 309.60Z" fill="#23365d"/>
<path d="M98.97 311.62L101.77 311.62L100.37 309.10Z" fill="#23365d"/>
<path d="M104.86 310.62L107.66 310.62L106.26 308.10Z" fill="#23365d"/>
<path d="M110.75 309.62L113.55 309.62L112.15 307.10Z" fill="#23365d"/>
<path d="M116.64 308.62L119.44 308.62L118.04 306.10Z" fill="#23365d"/>
<path d="M122.53 307.12L125.33 307.12L123.93 304.60Z" fill="#23365d"/>
<path d="M128.42 305.32L131.22 305.32L129.82 302.80Z" fill="#23365d"/>
<path d="M134.31 303.02L137.11 303.02L135.71 300.50Z" fill="#23365d"/>
<path d="M140.20 300.52L143.00 300.52L141.60 298.00Z" fill="#23365d"/>
<path d="M146.09 298.42L148.89 298.42L147.49 295.90Z" fill="#23365d"/>
<path d="M151.98 294.42L154.78 294.42L153.38 291.90Z" fill="#23365d"/>
<path d="M157.87 291.32L160.67 291.32L159.27 288.80Z" fill="#23365d"/>
<path d="M163.76 290.32L166.56 290.32L165.16 287.80Z" fill="#23365d"/>
<path d="M169.65 287.22L172.45 287.22L171.05 284.70Z" fill="#23365d"/>
<path d="M175.54 289.22L178.34 289.22L176.94 286.70Z" fill="#23365d"/>
<path d="M181.43 283.42L184.23 283.42L182.83 280.90Z" fill="#23365d"/>
<path d="M187.32 278.82L190.12 278.82L188.72 276.30Z" fill="#23365d"/>
<path d="M193.21 274.82L196.01 274.82L194.61 272.30Z" fill="#23365d"/>
<path d="M199.10 271.92L201.90 271.92L200.50 269.40Z" fill="#23365d"/>
<path d="M204.99 267.32L207.79 267.32L206.39 264.80Z" fill="#23365d"/>
<path d="M210.88 263.22L213.68 263.22L212.28 260.70Z" fill="#23365d"/>
<path d="M216.77 264.92L219.57 264.92L218.17 262.40Z" fill="#23365d"/>
<path d="M222.66 262.62L225.46 262.62L224.06 260.10Z" fill="#23365d"/>
<path d="M228.55 261.52L231.35 261.52L229.95 259.00Z" fill="#23365d"/>
<line x1="69.40" y1="230.90" x2="83.00" y2="230.90" stroke="#23365d" stroke-width="1.4"/>
<path d="M74.10 232.66L78.50 232.66L76.30 228.70Z" fill="#23365d"/>
<text x="86.60" y="233.40" font-size="7.8" textLength="59.5" lengthAdjust="spacingAndGlyphs">MMP-2 (0.75 nM)</text>
<line x1="69.40" y1="242.00" x2="83.00" y2="242.00" stroke="#23365d" stroke-width="1.4"/>
<path d="M74.10 240.24L78.50 240.24L76.30 244.20Z" fill="#23365d"/>
<text x="86.60" y="244.50" font-size="7.8" textLength="105.5" lengthAdjust="spacingAndGlyphs">MMP-2 (0.75 nM)+RWJ-56610</text>
<line x1="69.40" y1="253.40" x2="83.00" y2="253.40" stroke="#23365d" stroke-width="1.4"/>
<rect x="74.09" y="251.19" width="4.42" height="4.42" fill="#2d4e7d"/>
<text x="86.60" y="255.90" font-size="7.8" textLength="23.5" lengthAdjust="spacingAndGlyphs">vehicle</text>
<text x="270.60" y="216.00" font-size="11.2" font-weight="bold">D</text>
<line x1="314.50" y1="234.90" x2="314.50" y2="345.90" stroke="#222" stroke-width="1.1"/>
<line x1="311.50" y1="237.50" x2="314.50" y2="237.50" stroke="#222" stroke-width="1.1"/>
<text x="308.20" y="241.10" font-size="7.9" text-anchor="end">3</text>
<line x1="311.50" y1="273.50" x2="314.50" y2="273.50" stroke="#222" stroke-width="1.1"/>
<text x="308.20" y="277.10" font-size="7.9" text-anchor="end">2</text>
<line x1="311.50" y1="309.50" x2="314.50" y2="309.50" stroke="#222" stroke-width="1.1"/>
<text x="308.20" y="313.10" font-size="7.9" text-anchor="end">1</text>
<line x1="311.50" y1="345.50" x2="314.50" y2="345.50" stroke="#222" stroke-width="1.1"/>
<text x="308.20" y="349.10" font-size="7.9" text-anchor="end">0</text>
<line x1="314.00" y1="345.50" x2="498.50" y2="345.50" stroke="#222" stroke-width="1.1"/>
<line x1="314.50" y1="345.50" x2="314.50" y2="348.00" stroke="#222" stroke-width="1.1"/>
<line x1="351.50" y1="345.50" x2="351.50" y2="348.00" stroke="#222" stroke-width="1.1"/>
<line x1="387.50" y1="345.50" x2="387.50" y2="348.00" stroke="#222" stroke-width="1.1"/>
<line x1="424.50" y1="345.50" x2="424.50" y2="348.00" stroke="#222" stroke-width="1.1"/>
<line x1="461.50" y1="345.50" x2="461.50" y2="348.00" stroke="#222" stroke-width="1.1"/>
<line x1="498.50" y1="345.50" x2="498.50" y2="348.00" stroke="#222" stroke-width="1.1"/>
<text x="314.25" y="358.90" font-size="7.8" text-anchor="middle">0</text>
<text x="351.00" y="358.90" font-size="7.8" text-anchor="middle">5</text>
<text x="387.75" y="358.90" font-size="7.8" text-anchor="middle">10</text>
<text x="424.50" y="358.90" font-size="7.8" text-anchor="middle">15</text>
<text x="461.25" y="358.90" font-size="7.8" text-anchor="middle">20</text>
<text x="498.00" y="358.90" font-size="7.8" text-anchor="middle">25</text>
<text x="408.00" y="372.40" font-size="8.7" text-anchor="middle" textLength="41.8" lengthAdjust="spacingAndGlyphs">Time (min)</text>
<text x="298.00" y="290.00" font-size="9.7" text-anchor="middle" textLength="71" lengthAdjust="spacingAndGlyphs" transform="rotate(-90 298.00 290.00)">FLUO 3-AM (ratio)</text>
<polyline points="321.60,313.60 328.95,312.20 336.30,311.50 343.65,310.90 351.00,311.00 358.35,310.50 365.70,310.30 373.05,310.00 380.40,310.80 387.75,309.30 395.10,308.60 402.45,308.40 409.80,308.40 417.15,308.50 424.50,308.70 431.85,308.80 439.20,308.70 446.55,308.60 453.90,308.50 461.25,308.00 468.60,308.60 475.95,308.90 483.30,309.50" fill="none" stroke="#2d4e7d" stroke-width="1.5" stroke-linejoin="round"/>
<rect x="320.24" y="312.24" width="2.72" height="2.72" fill="#2d4e7d"/>
<rect x="327.59" y="310.84" width="2.72" height="2.72" fill="#2d4e7d"/>
<rect x="334.94" y="310.14" width="2.72" height="2.72" fill="#2d4e7d"/>
<rect x="342.29" y="309.54" width="2.72" height="2.72" fill="#2d4e7d"/>
<rect x="349.64" y="309.64" width="2.72" height="2.72" fill="#2d4e7d"/>
<rect x="356.99" y="309.14" width="2.72" height="2.72" fill="#2d4e7d"/>
<rect x="364.34" y="308.94" width="2.72" height="2.72" fill="#2d4e7d"/>
<rect x="371.69" y="308.64" width="2.72" height="2.72" fill="#2d4e7d"/>
<rect x="379.04" y="309.44" width="2.72" height="2.72" fill="#2d4e7d"/>
<rect x="386.39" y="307.94" width="2.72" height="2.72" fill="#2d4e7d"/>
<rect x="393.74" y="307.24" width="2.72" height="2.72" fill="#2d4e7d"/>
<rect x="401.09" y="307.04" width="2.72" height="2.72" fill="#2d4e7d"/>
<rect x="408.44" y="307.04" width="2.72" height="2.72" fill="#2d4e7d"/>
<rect x="415.79" y="307.14" width="2.72" height="2.72" fill="#2d4e7d"/>
<rect x="423.14" y="307.34" width="2.72" height="2.72" fill="#2d4e7d"/>
<rect x="430.49" y="307.44" width="2.72" height="2.72" fill="#2d4e7d"/>
<rect x="437.84" y="307.34" width="2.72" height="2.72" fill="#2d4e7d"/>
<rect x="445.19" y="307.24" width="2.72" height="2.72" fill="#2d4e7d"/>
<rect x="452.54" y="307.14" width="2.72" height="2.72" fill="#2d4e7d"/>
<rect x="459.89" y="306.64" width="2.72" height="2.72" fill="#2d4e7d"/>
<rect x="467.24" y="307.24" width="2.72" height="2.72" fill="#2d4e7d"/>
<rect x="474.59" y="307.54" width="2.72" height="2.72" fill="#2d4e7d"/>
<rect x="481.94" y="308.14" width="2.72" height="2.72" fill="#2d4e7d"/>
<polyline points="321.60,318.80 328.95,317.90 336.30,317.50 343.65,316.00 351.00,314.00 358.35,312.00 365.70,311.00 373.05,310.50 380.40,310.20 387.75,307.00 395.10,305.40 402.45,305.00 409.80,303.50 417.15,301.20 424.50,299.60 431.85,297.00 439.20,298.70 446.55,298.70 453.90,297.00 461.25,297.00 468.60,294.80 475.95,295.80 483.30,294.20" fill="none" stroke="#8e1034" stroke-width="1.6" stroke-linejoin="round"/>
<path d="M319.90 320.16L323.30 320.16L321.60 317.10Z" fill="#760a28"/>
<path d="M327.25 319.26L330.65 319.26L328.95 316.20Z" fill="#760a28"/>
<path d="M334.60 318.86L338.00 318.86L336.30 315.80Z" fill="#760a28"/>
<path d="M341.95 317.36L345.35 317.36L343.65 314.30Z" fill="#760a28"/>
<path d="M349.30 315.36L352.70 315.36L351.00 312.30Z" fill="#760a28"/>
<path d="M356.65 313.36L360.05 313.36L358.35 310.30Z" fill="#760a28"/>
<path d="M364.00 312.36L367.40 312.36L365.70 309.30Z" fill="#760a28"/>
<path d="M371.35 311.86L374.75 311.86L373.05 308.80Z" fill="#760a28"/>
<path d="M378.70 311.56L382.10 311.56L380.40 308.50Z" fill="#760a28"/>
<path d="M386.05 308.36L389.45 308.36L387.75 305.30Z" fill="#760a28"/>
<path d="M393.40 306.76L396.80 306.76L395.10 303.70Z" fill="#760a28"/>
<path d="M400.75 306.36L404.15 306.36L402.45 303.30Z" fill="#760a28"/>
<path d="M408.10 304.86L411.50 304.86L409.80 301.80Z" fill="#760a28"/>
<path d="M415.45 302.56L418.85 302.56L417.15 299.50Z" fill="#760a28"/>
<path d="M422.80 300.96L426.20 300.96L424.50 297.90Z" fill="#760a28"/>
<path d="M430.15 298.36L433.55 298.36L431.85 295.30Z" fill="#760a28"/>
<path d="M437.50 300.06L440.90 300.06L439.20 297.00Z" fill="#760a28"/>
<path d="M444.85 300.06L448.25 300.06L446.55 297.00Z" fill="#760a28"/>
<path d="M452.20 298.36L455.60 298.36L453.90 295.30Z" fill="#760a28"/>
<path d="M459.55 298.36L462.95 298.36L461.25 295.30Z" fill="#760a28"/>
<path d="M466.90 296.16L470.30 296.16L468.60 293.10Z" fill="#760a28"/>
<path d="M474.25 297.16L477.65 297.16L475.95 294.10Z" fill="#760a28"/>
<path d="M481.60 295.56L485.00 295.56L483.30 292.50Z" fill="#760a28"/>
<line x1="417.15" y1="292.00" x2="417.15" y2="295.60" stroke="#2a2a2a" stroke-width="1.05"/>
<line x1="415.75" y1="292.00" x2="418.55" y2="292.00" stroke="#2a2a2a" stroke-width="1.2"/>
<line x1="415.75" y1="295.60" x2="418.55" y2="295.60" stroke="#2a2a2a" stroke-width="1.2"/>
<line x1="431.85" y1="289.40" x2="431.85" y2="293.00" stroke="#2a2a2a" stroke-width="1.05"/>
<line x1="430.45" y1="289.40" x2="433.25" y2="289.40" stroke="#2a2a2a" stroke-width="1.2"/>
<line x1="430.45" y1="293.00" x2="433.25" y2="293.00" stroke="#2a2a2a" stroke-width="1.2"/>
<line x1="475.95" y1="284.40" x2="475.95" y2="288.00" stroke="#2a2a2a" stroke-width="1.05"/>
<line x1="474.55" y1="284.40" x2="477.35" y2="284.40" stroke="#2a2a2a" stroke-width="1.2"/>
<line x1="474.55" y1="288.00" x2="477.35" y2="288.00" stroke="#2a2a2a" stroke-width="1.2"/>
<line x1="483.30" y1="285.90" x2="483.30" y2="289.50" stroke="#2a2a2a" stroke-width="1.05"/>
<line x1="481.90" y1="285.90" x2="484.70" y2="285.90" stroke="#2a2a2a" stroke-width="1.2"/>
<line x1="481.90" y1="289.50" x2="484.70" y2="289.50" stroke="#2a2a2a" stroke-width="1.2"/>
<polyline points="321.60,316.00 328.95,314.00 336.30,312.00 343.65,310.50 351.00,308.80 358.35,306.30 365.70,306.30 373.05,303.50 380.40,302.00 387.75,300.00 395.10,300.00 402.45,297.50 409.80,295.80 417.15,293.80 424.50,292.30 431.85,291.20 439.20,290.40 446.55,289.20 453.90,288.50 461.25,287.70 468.60,287.30 475.95,286.20 483.30,287.70" fill="none" stroke="#8e1034" stroke-width="1.6" stroke-linejoin="round"/>
<rect x="320.24" y="314.64" width="2.72" height="2.72" fill="#760a28"/>
<rect x="327.59" y="312.64" width="2.72" height="2.72" fill="#760a28"/>
<rect x="334.94" y="310.64" width="2.72" height="2.72" fill="#760a28"/>
<rect x="342.29" y="309.14" width="2.72" height="2.72" fill="#760a28"/>
<rect x="349.64" y="307.44" width="2.72" height="2.72" fill="#760a28"/>
<rect x="356.99" y="304.94" width="2.72" height="2.72" fill="#760a28"/>
<rect x="364.34" y="304.94" width="2.72" height="2.72" fill="#760a28"/>
<rect x="371.69" y="302.14" width="2.72" height="2.72" fill="#760a28"/>
<rect x="379.04" y="300.64" width="2.72" height="2.72" fill="#760a28"/>
<rect x="386.39" y="298.64" width="2.72" height="2.72" fill="#760a28"/>
<rect x="393.74" y="298.64" width="2.72" height="2.72" fill="#760a28"/>
<rect x="401.09" y="296.14" width="2.72" height="2.72" fill="#760a28"/>
<rect x="408.44" y="294.44" width="2.72" height="2.72" fill="#760a28"/>
<rect x="415.79" y="292.44" width="2.72" height="2.72" fill="#760a28"/>
<rect x="423.14" y="290.94" width="2.72" height="2.72" fill="#760a28"/>
<rect x="430.49" y="289.84" width="2.72" height="2.72" fill="#760a28"/>
<rect x="437.84" y="289.04" width="2.72" height="2.72" fill="#760a28"/>
<rect x="445.19" y="287.84" width="2.72" height="2.72" fill="#760a28"/>
<rect x="452.54" y="287.14" width="2.72" height="2.72" fill="#760a28"/>
<rect x="459.89" y="286.34" width="2.72" height="2.72" fill="#760a28"/>
<rect x="467.24" y="285.94" width="2.72" height="2.72" fill="#760a28"/>
<rect x="474.59" y="284.84" width="2.72" height="2.72" fill="#760a28"/>
<rect x="481.94" y="286.34" width="2.72" height="2.72" fill="#760a28"/>
<line x1="328.95" y1="287.80" x2="328.95" y2="296.80" stroke="#2a2a2a" stroke-width="1.05"/>
<line x1="327.55" y1="287.80" x2="330.35" y2="287.80" stroke="#2a2a2a" stroke-width="1.2"/>
<line x1="327.55" y1="296.80" x2="330.35" y2="296.80" stroke="#2a2a2a" stroke-width="1.2"/>
<line x1="336.30" y1="287.00" x2="336.30" y2="295.00" stroke="#2a2a2a" stroke-width="1.05"/>
<line x1="334.90" y1="287.00" x2="337.70" y2="287.00" stroke="#2a2a2a" stroke-width="1.2"/>
<line x1="334.90" y1="295.00" x2="337.70" y2="295.00" stroke="#2a2a2a" stroke-width="1.2"/>
<line x1="343.65" y1="286.50" x2="343.65" y2="297.50" stroke="#2a2a2a" stroke-width="1.05"/>
<line x1="342.25" y1="286.50" x2="345.05" y2="286.50" stroke="#2a2a2a" stroke-width="1.2"/>
<line x1="342.25" y1="297.50" x2="345.05" y2="297.50" stroke="#2a2a2a" stroke-width="1.2"/>
<line x1="351.00" y1="283.00" x2="351.00" y2="294.00" stroke="#2a2a2a" stroke-width="1.05"/>
<line x1="349.60" y1="283.00" x2="352.40" y2="283.00" stroke="#2a2a2a" stroke-width="1.2"/>
<line x1="349.60" y1="294.00" x2="352.40" y2="294.00" stroke="#2a2a2a" stroke-width="1.2"/>
<line x1="358.35" y1="279.20" x2="358.35" y2="289.20" stroke="#2a2a2a" stroke-width="1.05"/>
<line x1="356.95" y1="279.20" x2="359.75" y2="279.20" stroke="#2a2a2a" stroke-width="1.2"/>
<line x1="356.95" y1="289.20" x2="359.75" y2="289.20" stroke="#2a2a2a" stroke-width="1.2"/>
<line x1="365.70" y1="275.80" x2="365.70" y2="285.80" stroke="#2a2a2a" stroke-width="1.05"/>
<line x1="364.30" y1="275.80" x2="367.10" y2="275.80" stroke="#2a2a2a" stroke-width="1.2"/>
<line x1="364.30" y1="285.80" x2="367.10" y2="285.80" stroke="#2a2a2a" stroke-width="1.2"/>
<line x1="373.05" y1="269.10" x2="373.05" y2="280.10" stroke="#2a2a2a" stroke-width="1.05"/>
<line x1="371.65" y1="269.10" x2="374.45" y2="269.10" stroke="#2a2a2a" stroke-width="1.2"/>
<line x1="371.65" y1="280.10" x2="374.45" y2="280.10" stroke="#2a2a2a" stroke-width="1.2"/>
<line x1="380.40" y1="265.70" x2="380.40" y2="276.70" stroke="#2a2a2a" stroke-width="1.05"/>
<line x1="379.00" y1="265.70" x2="381.80" y2="265.70" stroke="#2a2a2a" stroke-width="1.2"/>
<line x1="379.00" y1="276.70" x2="381.80" y2="276.70" stroke="#2a2a2a" stroke-width="1.2"/>
<line x1="387.75" y1="263.30" x2="387.75" y2="274.30" stroke="#2a2a2a" stroke-width="1.05"/>
<line x1="386.35" y1="263.30" x2="389.15" y2="263.30" stroke="#2a2a2a" stroke-width="1.2"/>
<line x1="386.35" y1="274.30" x2="389.15" y2="274.30" stroke="#2a2a2a" stroke-width="1.2"/>
<line x1="395.10" y1="262.00" x2="395.10" y2="272.00" stroke="#2a2a2a" stroke-width="1.05"/>
<line x1="393.70" y1="262.00" x2="396.50" y2="262.00" stroke="#2a2a2a" stroke-width="1.2"/>
<line x1="393.70" y1="272.00" x2="396.50" y2="272.00" stroke="#2a2a2a" stroke-width="1.2"/>
<line x1="402.45" y1="260.50" x2="402.45" y2="270.50" stroke="#2a2a2a" stroke-width="1.05"/>
<line x1="401.05" y1="260.50" x2="403.85" y2="260.50" stroke="#2a2a2a" stroke-width="1.2"/>
<line x1="401.05" y1="270.50" x2="403.85" y2="270.50" stroke="#2a2a2a" stroke-width="1.2"/>
<line x1="409.80" y1="256.30" x2="409.80" y2="266.30" stroke="#2a2a2a" stroke-width="1.05"/>
<line x1="408.40" y1="256.30" x2="411.20" y2="256.30" stroke="#2a2a2a" stroke-width="1.2"/>
<line x1="408.40" y1="266.30" x2="411.20" y2="266.30" stroke="#2a2a2a" stroke-width="1.2"/>
<line x1="417.15" y1="254.20" x2="417.15" y2="264.20" stroke="#2a2a2a" stroke-width="1.05"/>
<line x1="415.75" y1="254.20" x2="418.55" y2="254.20" stroke="#2a2a2a" stroke-width="1.2"/>
<line x1="415.75" y1="264.20" x2="418.55" y2="264.20" stroke="#2a2a2a" stroke-width="1.2"/>
<line x1="424.50" y1="254.80" x2="424.50" y2="264.80" stroke="#2a2a2a" stroke-width="1.05"/>
<line x1="423.10" y1="254.80" x2="425.90" y2="254.80" stroke="#2a2a2a" stroke-width="1.2"/>
<line x1="423.10" y1="264.80" x2="425.90" y2="264.80" stroke="#2a2a2a" stroke-width="1.2"/>
<line x1="431.85" y1="252.70" x2="431.85" y2="262.70" stroke="#2a2a2a" stroke-width="1.05"/>
<line x1="430.45" y1="252.70" x2="433.25" y2="252.70" stroke="#2a2a2a" stroke-width="1.2"/>
<line x1="430.45" y1="262.70" x2="433.25" y2="262.70" stroke="#2a2a2a" stroke-width="1.2"/>
<line x1="439.20" y1="251.80" x2="439.20" y2="260.80" stroke="#2a2a2a" stroke-width="1.05"/>
<line x1="437.80" y1="251.80" x2="440.60" y2="251.80" stroke="#2a2a2a" stroke-width="1.2"/>
<line x1="437.80" y1="260.80" x2="440.60" y2="260.80" stroke="#2a2a2a" stroke-width="1.2"/>
<line x1="446.55" y1="249.90" x2="446.55" y2="258.90" stroke="#2a2a2a" stroke-width="1.05"/>
<line x1="445.15" y1="249.90" x2="447.95" y2="249.90" stroke="#2a2a2a" stroke-width="1.2"/>
<line x1="445.15" y1="258.90" x2="447.95" y2="258.90" stroke="#2a2a2a" stroke-width="1.2"/>
<line x1="453.90" y1="248.50" x2="453.90" y2="256.50" stroke="#2a2a2a" stroke-width="1.05"/>
<line x1="452.50" y1="248.50" x2="455.30" y2="248.50" stroke="#2a2a2a" stroke-width="1.2"/>
<line x1="452.50" y1="256.50" x2="455.30" y2="256.50" stroke="#2a2a2a" stroke-width="1.2"/>
<line x1="461.25" y1="249.50" x2="461.25" y2="256.50" stroke="#2a2a2a" stroke-width="1.05"/>
<line x1="459.85" y1="249.50" x2="462.65" y2="249.50" stroke="#2a2a2a" stroke-width="1.2"/>
<line x1="459.85" y1="256.50" x2="462.65" y2="256.50" stroke="#2a2a2a" stroke-width="1.2"/>
<line x1="468.60" y1="250.30" x2="468.60" y2="257.30" stroke="#2a2a2a" stroke-width="1.05"/>
<line x1="467.20" y1="250.30" x2="470.00" y2="250.30" stroke="#2a2a2a" stroke-width="1.2"/>
<line x1="467.20" y1="257.30" x2="470.00" y2="257.30" stroke="#2a2a2a" stroke-width="1.2"/>
<line x1="475.95" y1="250.00" x2="475.95" y2="257.00" stroke="#2a2a2a" stroke-width="1.05"/>
<line x1="474.55" y1="250.00" x2="477.35" y2="250.00" stroke="#2a2a2a" stroke-width="1.2"/>
<line x1="474.55" y1="257.00" x2="477.35" y2="257.00" stroke="#2a2a2a" stroke-width="1.2"/>
<line x1="483.30" y1="249.20" x2="483.30" y2="256.80" stroke="#2a2a2a" stroke-width="1.05"/>
<line x1="481.90" y1="249.20" x2="484.70" y2="249.20" stroke="#2a2a2a" stroke-width="1.2"/>
<line x1="481.90" y1="256.80" x2="484.70" y2="256.80" stroke="#2a2a2a" stroke-width="1.2"/>
<polyline points="321.60,300.60 328.95,292.30 336.30,291.00 343.65,292.00 351.00,288.50 358.35,284.20 365.70,280.80 373.05,274.60 380.40,271.20 387.75,268.80 395.10,267.00 402.45,265.50 409.80,261.30 417.15,259.20 424.50,259.80 431.85,257.70 439.20,256.30 446.55,254.40 453.90,252.50 461.25,253.00 468.60,253.80 475.95,253.50 483.30,253.00" fill="none" stroke="#8e1034" stroke-width="1.7" stroke-linejoin="round"/>
<circle cx="321.60" cy="300.60" r="1.60" fill="#760a28"/>
<circle cx="328.95" cy="292.30" r="1.60" fill="#760a28"/>
<circle cx="336.30" cy="291.00" r="1.60" fill="#760a28"/>
<circle cx="343.65" cy="292.00" r="1.60" fill="#760a28"/>
<circle cx="351.00" cy="288.50" r="1.60" fill="#760a28"/>
<circle cx="358.35" cy="284.20" r="1.60" fill="#760a28"/>
<circle cx="365.70" cy="280.80" r="1.60" fill="#760a28"/>
<circle cx="373.05" cy="274.60" r="1.60" fill="#760a28"/>
<circle cx="380.40" cy="271.20" r="1.60" fill="#760a28"/>
<circle cx="387.75" cy="268.80" r="1.60" fill="#760a28"/>
<circle cx="395.10" cy="267.00" r="1.60" fill="#760a28"/>
<circle cx="402.45" cy="265.50" r="1.60" fill="#760a28"/>
<circle cx="409.80" cy="261.30" r="1.60" fill="#760a28"/>
<circle cx="417.15" cy="259.20" r="1.60" fill="#760a28"/>
<circle cx="424.50" cy="259.80" r="1.60" fill="#760a28"/>
<circle cx="431.85" cy="257.70" r="1.60" fill="#760a28"/>
<circle cx="439.20" cy="256.30" r="1.60" fill="#760a28"/>
<circle cx="446.55" cy="254.40" r="1.60" fill="#760a28"/>
<circle cx="453.90" cy="252.50" r="1.60" fill="#760a28"/>
<circle cx="461.25" cy="253.00" r="1.60" fill="#760a28"/>
<circle cx="468.60" cy="253.80" r="1.60" fill="#760a28"/>
<circle cx="475.95" cy="253.50" r="1.60" fill="#760a28"/>
<circle cx="483.30" cy="253.00" r="1.60" fill="#760a28"/>
<line x1="329.60" y1="220.90" x2="342.50" y2="220.90" stroke="#5a0a1e" stroke-width="1.5"/>
<circle cx="336.2" cy="220.90" r="2.2" fill="#a0072c" stroke="#5a0a1e" stroke-width="0.6"/>
<text x="345.60" y="223.40" font-size="8.3" textLength="64.3" lengthAdjust="spacingAndGlyphs">DPR-TRAP 500µM</text>
<line x1="329.60" y1="232.40" x2="342.50" y2="232.40" stroke="#5a0a1e" stroke-width="1.5"/>
<rect x="334.07" y="230.28" width="4.25" height="4.25" fill="#a0072c"/>
<text x="345.60" y="234.90" font-size="8.3" textLength="107.4" lengthAdjust="spacingAndGlyphs">DPR-TRAP 500µM+RWJ56610</text>
<line x1="329.60" y1="244.00" x2="342.50" y2="244.00" stroke="#5a0a1e" stroke-width="1.5"/>
<path d="M333.50 246.16L338.90 246.16L336.20 241.30Z" fill="#a0072c"/>
<text x="345.60" y="246.50" font-size="8.3" textLength="60.0" lengthAdjust="spacingAndGlyphs">DPR-TRAP 10µM</text>
<line x1="329.60" y1="255.60" x2="342.50" y2="255.60" stroke="#23365d" stroke-width="1.5"/>
<rect x="334.07" y="253.47" width="4.25" height="4.25" fill="#2d4e7d"/>
<text x="345.60" y="258.10" font-size="8.3" textLength="23.3" lengthAdjust="spacingAndGlyphs">vehicle</text>
<text x="7.90" y="400.30" font-size="11.8" font-weight="bold">E</text>
<line x1="53.50" y1="402.50" x2="53.50" y2="508.90" stroke="#222" stroke-width="1.1"/>
<line x1="50.50" y1="405.50" x2="53.50" y2="405.50" stroke="#222" stroke-width="1.1"/>
<text x="47.20" y="407.70" font-size="8.1" text-anchor="end">250</text>
<line x1="50.50" y1="425.50" x2="53.50" y2="425.50" stroke="#222" stroke-width="1.1"/>
<text x="47.20" y="428.38" font-size="8.1" text-anchor="end">200</text>
<line x1="50.50" y1="446.50" x2="53.50" y2="446.50" stroke="#222" stroke-width="1.1"/>
<text x="47.20" y="449.06" font-size="8.1" text-anchor="end">150</text>
<line x1="50.50" y1="467.50" x2="53.50" y2="467.50" stroke="#222" stroke-width="1.1"/>
<text x="47.20" y="469.74" font-size="8.1" text-anchor="end">100</text>
<line x1="50.50" y1="487.50" x2="53.50" y2="487.50" stroke="#222" stroke-width="1.1"/>
<text x="47.20" y="490.42" font-size="8.1" text-anchor="end">50</text>
<line x1="50.50" y1="508.50" x2="53.50" y2="508.50" stroke="#222" stroke-width="1.1"/>
<text x="47.20" y="511.10" font-size="8.1" text-anchor="end">0</text>
<rect x="60.75" y="457.94" width="27.00" height="50.46" fill="#a5032a"/>
<line x1="74.50" y1="448.50" x2="74.50" y2="458.44" stroke="#2a2a2a" stroke-width="1.1"/>
<line x1="67.75" y1="448.50" x2="80.75" y2="448.50" stroke="#2a2a2a" stroke-width="1.15"/>
<rect x="102.00" y="506.95" width="27.50" height="1.45" fill="#a5032a"/>
<line x1="115.50" y1="503.50" x2="115.50" y2="507.45" stroke="#2a2a2a" stroke-width="1.1"/>
<line x1="109.25" y1="503.50" x2="122.25" y2="503.50" stroke="#2a2a2a" stroke-width="1.15"/>
<circle cx="115.75" cy="497.50" r="1.1" fill="#1e1e1e"/>
<rect x="144.25" y="433.12" width="27.75" height="75.28" fill="#2d4e7d"/>
<line x1="158.50" y1="410.50" x2="158.50" y2="433.62" stroke="#2a2a2a" stroke-width="1.1"/>
<line x1="151.62" y1="410.50" x2="164.62" y2="410.50" stroke="#2a2a2a" stroke-width="1.15"/>
<rect x="186.25" y="499.30" width="27.50" height="9.10" fill="#2d4e7d"/>
<line x1="200.50" y1="495.50" x2="200.50" y2="499.80" stroke="#2a2a2a" stroke-width="1.1"/>
<line x1="193.50" y1="495.50" x2="206.50" y2="495.50" stroke="#2a2a2a" stroke-width="1.15"/>
<circle cx="200.00" cy="490.00" r="1.1" fill="#1e1e1e"/>
<line x1="53.00" y1="508.50" x2="221.00" y2="508.50" stroke="#222" stroke-width="1.1"/>
<line x1="74.50" y1="508.50" x2="74.50" y2="511.00" stroke="#222" stroke-width="1.1"/>
<line x1="115.50" y1="508.50" x2="115.50" y2="511.00" stroke="#222" stroke-width="1.1"/>
<line x1="158.50" y1="508.50" x2="158.50" y2="511.00" stroke="#222" stroke-width="1.1"/>
<line x1="200.50" y1="508.50" x2="200.50" y2="511.00" stroke="#222" stroke-width="1.1"/>
<text x="16.30" y="456.80" font-size="9.4" text-anchor="middle" textLength="39" lengthAdjust="spacingAndGlyphs" transform="rotate(-90 16.30 456.80)">% priming</text>
<text x="28.20" y="456.50" font-size="9.4" text-anchor="middle" textLength="76" lengthAdjust="spacingAndGlyphs" transform="rotate(-90 28.20 456.50)">(CD62P expression)</text>
<text x="74.25" y="522.20" font-size="8.1" text-anchor="middle">vehicle</text>
<text x="115.80" y="522.20" font-size="8.1" text-anchor="middle">U73122</text>
<text x="115.80" y="532.00" font-size="8.1" text-anchor="middle">(10µM)</text>
<text x="157.50" y="522.20" font-size="8.1" text-anchor="middle">vehicle</text>
<text x="200.00" y="522.20" font-size="8.1" text-anchor="middle">U73122</text>
<text x="200.00" y="532.00" font-size="8.1" text-anchor="middle">(10µM)</text>
<text x="270.50" y="400.30" font-size="11.8" font-weight="bold">F</text>
<line x1="314.50" y1="401.25" x2="314.50" y2="509.25" stroke="#222" stroke-width="1.1"/>
<line x1="311.50" y1="403.50" x2="314.50" y2="403.50" stroke="#222" stroke-width="1.1"/>
<text x="308.20" y="406.65" font-size="8.0" text-anchor="end">400</text>
<line x1="311.50" y1="430.50" x2="314.50" y2="430.50" stroke="#222" stroke-width="1.1"/>
<text x="308.20" y="432.90" font-size="8.0" text-anchor="end">300</text>
<line x1="311.50" y1="456.50" x2="314.50" y2="456.50" stroke="#222" stroke-width="1.1"/>
<text x="308.20" y="459.15" font-size="8.0" text-anchor="end">200</text>
<line x1="311.50" y1="482.50" x2="314.50" y2="482.50" stroke="#222" stroke-width="1.1"/>
<text x="308.20" y="485.40" font-size="8.0" text-anchor="end">100</text>
<line x1="311.50" y1="508.50" x2="314.50" y2="508.50" stroke="#222" stroke-width="1.1"/>
<text x="308.20" y="511.65" font-size="8.0" text-anchor="end">0</text>
<rect x="322.00" y="457.04" width="30.00" height="51.71" fill="#a5032a"/>
<line x1="337.50" y1="455.50" x2="337.50" y2="457.54" stroke="#2a2a2a" stroke-width="1.1"/>
<line x1="329.50" y1="455.50" x2="344.50" y2="455.50" stroke="#2a2a2a" stroke-width="1.15"/>
<rect x="367.00" y="499.30" width="29.75" height="9.45" fill="#a5032a"/>
<line x1="381.50" y1="494.50" x2="381.50" y2="499.80" stroke="#2a2a2a" stroke-width="1.1"/>
<line x1="374.38" y1="494.50" x2="389.38" y2="494.50" stroke="#2a2a2a" stroke-width="1.15"/>
<circle cx="381.88" cy="488.75" r="1.1" fill="#1e1e1e"/>
<rect x="412.00" y="436.04" width="29.25" height="72.71" fill="#2d4e7d"/>
<line x1="426.50" y1="421.50" x2="426.50" y2="436.54" stroke="#2a2a2a" stroke-width="1.1"/>
<line x1="419.12" y1="421.50" x2="434.12" y2="421.50" stroke="#2a2a2a" stroke-width="1.15"/>
<rect x="456.75" y="489.32" width="29.50" height="19.43" fill="#2d4e7d"/>
<line x1="471.50" y1="483.50" x2="471.50" y2="489.82" stroke="#2a2a2a" stroke-width="1.1"/>
<line x1="464.00" y1="483.50" x2="479.00" y2="483.50" stroke="#2a2a2a" stroke-width="1.15"/>
<circle cx="471.50" cy="477.00" r="1.1" fill="#1e1e1e"/>
<line x1="314.00" y1="508.50" x2="494.00" y2="508.50" stroke="#222" stroke-width="1.1"/>
<line x1="337.50" y1="508.50" x2="337.50" y2="511.00" stroke="#222" stroke-width="1.1"/>
<line x1="381.50" y1="508.50" x2="381.50" y2="511.00" stroke="#222" stroke-width="1.1"/>
<line x1="426.50" y1="508.50" x2="426.50" y2="511.00" stroke="#222" stroke-width="1.1"/>
<line x1="471.50" y1="508.50" x2="471.50" y2="511.00" stroke="#222" stroke-width="1.1"/>
<text x="277.00" y="456.60" font-size="9.4" text-anchor="middle" textLength="39.5" lengthAdjust="spacingAndGlyphs" transform="rotate(-90 277.00 456.60)">% priming</text>
<text x="288.60" y="456.30" font-size="9.4" text-anchor="middle" textLength="76" lengthAdjust="spacingAndGlyphs" transform="rotate(-90 288.60 456.30)">(CD62P expression)</text>
<text x="337.00" y="522.20" font-size="8.1" text-anchor="middle">vehicle</text>
<text x="381.90" y="522.20" font-size="8.1" text-anchor="middle">GSK429286</text>
<text x="381.90" y="532.00" font-size="8.1" text-anchor="middle">(100µM)</text>
<text x="426.75" y="522.20" font-size="8.1" text-anchor="middle">vehicle</text>
<text x="471.30" y="522.20" font-size="8.1" text-anchor="middle">GSK429286</text>
<text x="471.30" y="532.00" font-size="8.1" text-anchor="middle">(100µM)</text>
<text x="7.50" y="558.20" font-size="11.2" font-weight="bold">G</text>
<line x1="55.50" y1="568.35" x2="55.50" y2="683.40" stroke="#222" stroke-width="1.1"/>
<line x1="52.50" y1="570.50" x2="55.50" y2="570.50" stroke="#222" stroke-width="1.1"/>
<text x="49.20" y="573.75" font-size="8.0" text-anchor="end">150</text>
<line x1="52.50" y1="608.50" x2="55.50" y2="608.50" stroke="#222" stroke-width="1.1"/>
<text x="49.20" y="611.10" font-size="8.0" text-anchor="end">100</text>
<line x1="52.50" y1="645.50" x2="55.50" y2="645.50" stroke="#222" stroke-width="1.1"/>
<text x="49.20" y="648.45" font-size="8.0" text-anchor="end">50</text>
<line x1="52.50" y1="682.50" x2="55.50" y2="682.50" stroke="#222" stroke-width="1.1"/>
<text x="49.20" y="685.80" font-size="8.0" text-anchor="end">0</text>
<rect x="60.00" y="656.75" width="18.25" height="26.14" fill="#a5032a"/>
<line x1="69.50" y1="645.50" x2="69.50" y2="657.25" stroke="#2a2a2a" stroke-width="1.1"/>
<line x1="64.12" y1="645.50" x2="74.12" y2="645.50" stroke="#2a2a2a" stroke-width="1.15"/>
<rect x="88.00" y="608.20" width="18.25" height="74.70" fill="#2d4e7d"/>
<rect x="116.00" y="606.33" width="17.75" height="76.57" fill="#6ca83e"/>
<line x1="124.50" y1="600.50" x2="124.50" y2="606.83" stroke="#2a2a2a" stroke-width="1.1"/>
<line x1="119.88" y1="600.50" x2="129.88" y2="600.50" stroke="#2a2a2a" stroke-width="1.15"/>
<rect x="144.25" y="637.33" width="17.50" height="45.57" fill="#2d4e7d"/>
<line x1="153.50" y1="632.50" x2="153.50" y2="637.83" stroke="#2a2a2a" stroke-width="1.1"/>
<line x1="148.00" y1="632.50" x2="158.00" y2="632.50" stroke="#2a2a2a" stroke-width="1.15"/>
<circle cx="153.00" cy="627.50" r="1.1" fill="#1e1e1e"/>
<rect x="172.00" y="613.43" width="17.50" height="69.47" fill="#2d4e7d"/>
<line x1="180.50" y1="601.50" x2="180.50" y2="613.93" stroke="#2a2a2a" stroke-width="1.1"/>
<line x1="175.75" y1="601.50" x2="185.75" y2="601.50" stroke="#2a2a2a" stroke-width="1.15"/>
<rect x="200.00" y="593.26" width="17.50" height="89.64" fill="#2d4e7d"/>
<line x1="208.50" y1="583.50" x2="208.50" y2="593.76" stroke="#2a2a2a" stroke-width="1.1"/>
<line x1="203.75" y1="583.50" x2="213.75" y2="583.50" stroke="#2a2a2a" stroke-width="1.15"/>
<rect x="228.00" y="628.74" width="17.75" height="54.16" fill="#2d4e7d"/>
<line x1="236.50" y1="626.50" x2="236.50" y2="629.24" stroke="#2a2a2a" stroke-width="1.1"/>
<line x1="231.88" y1="626.50" x2="241.88" y2="626.50" stroke="#2a2a2a" stroke-width="1.15"/>
<circle cx="236.88" cy="621.75" r="1.1" fill="#1e1e1e"/>
<line x1="55.00" y1="682.50" x2="250.00" y2="682.50" stroke="#222" stroke-width="1.1"/>
<line x1="69.50" y1="682.50" x2="69.50" y2="685.00" stroke="#222" stroke-width="1.1"/>
<line x1="97.50" y1="682.50" x2="97.50" y2="685.00" stroke="#222" stroke-width="1.1"/>
<line x1="124.50" y1="682.50" x2="124.50" y2="685.00" stroke="#222" stroke-width="1.1"/>
<line x1="153.50" y1="682.50" x2="153.50" y2="685.00" stroke="#222" stroke-width="1.1"/>
<line x1="180.50" y1="682.50" x2="180.50" y2="685.00" stroke="#222" stroke-width="1.1"/>
<line x1="208.50" y1="682.50" x2="208.50" y2="685.00" stroke="#222" stroke-width="1.1"/>
<line x1="236.50" y1="682.50" x2="236.50" y2="685.00" stroke="#222" stroke-width="1.1"/>
<text x="31.20" y="625.90" font-size="9.0" text-anchor="middle" textLength="83" lengthAdjust="spacingAndGlyphs" transform="rotate(-90 31.20 625.90)">cAMP (% vs iloprost)</text>
<line x1="88.75" y1="571.20" x2="240.50" y2="571.20" stroke="#222" stroke-width="1.1"/>
<text x="164.40" y="566.30" font-size="7.7" text-anchor="middle" textLength="76" lengthAdjust="spacingAndGlyphs">ILOPROST (100ng/ml)</text>
<text x="68.00" y="696.00" font-size="8.0" text-anchor="middle">bas</text>
<text x="96.90" y="696.00" font-size="8.0" text-anchor="middle">veh</text>
<text x="124.60" y="696.00" font-size="8.0" text-anchor="middle">MMP-2</text>
<text x="152.60" y="696.00" font-size="8.0" text-anchor="middle">TRAP</text>
<text x="180.60" y="696.00" font-size="8.0" text-anchor="middle">10</text>
<text x="208.40" y="696.00" font-size="8.0" text-anchor="middle">500</text>
<text x="229.80" y="696.00" font-size="8.0" textLength="53" lengthAdjust="spacingAndGlyphs">TRAP (10uM)+</text>
<text x="229.30" y="705.30" font-size="8.0" textLength="73.8" lengthAdjust="spacingAndGlyphs">DPR-TRAP (500uM)</text>
<line x1="175.00" y1="699.50" x2="218.00" y2="699.50" stroke="#222" stroke-width="1.0"/>
<text x="195.50" y="712.00" font-size="8.0" text-anchor="middle" textLength="57.5" lengthAdjust="spacingAndGlyphs">DPR-TRAP(µM)</text>
<text x="309.40" y="557.80" font-size="11.4" font-weight="bold">H</text>
<line x1="354.50" y1="568.80" x2="354.50" y2="683.00" stroke="#222" stroke-width="1.1"/>
<line x1="351.50" y1="571.50" x2="354.50" y2="571.50" stroke="#222" stroke-width="1.1"/>
<text x="348.20" y="574.20" font-size="8.0" text-anchor="end">400</text>
<line x1="351.50" y1="599.50" x2="354.50" y2="599.50" stroke="#222" stroke-width="1.1"/>
<text x="348.20" y="602.00" font-size="8.0" text-anchor="end">300</text>
<line x1="351.50" y1="626.50" x2="354.50" y2="626.50" stroke="#222" stroke-width="1.1"/>
<text x="348.20" y="629.80" font-size="8.0" text-anchor="end">200</text>
<line x1="351.50" y1="654.50" x2="354.50" y2="654.50" stroke="#222" stroke-width="1.1"/>
<text x="348.20" y="657.60" font-size="8.0" text-anchor="end">100</text>
<line x1="351.50" y1="682.50" x2="354.50" y2="682.50" stroke="#222" stroke-width="1.1"/>
<text x="348.20" y="685.40" font-size="8.0" text-anchor="end">0</text>
<rect x="361.25" y="634.13" width="26.25" height="48.37" fill="#a5032a"/>
<line x1="374.50" y1="626.50" x2="374.50" y2="634.63" stroke="#2a2a2a" stroke-width="1.1"/>
<line x1="368.12" y1="626.50" x2="380.62" y2="626.50" stroke="#2a2a2a" stroke-width="1.15"/>
<rect x="400.75" y="640.80" width="26.25" height="41.70" fill="#a5032a"/>
<line x1="413.50" y1="629.50" x2="413.50" y2="641.30" stroke="#2a2a2a" stroke-width="1.1"/>
<line x1="407.62" y1="629.50" x2="420.12" y2="629.50" stroke="#2a2a2a" stroke-width="1.15"/>
<rect x="440.75" y="620.23" width="26.00" height="62.27" fill="#2d4e7d"/>
<line x1="453.50" y1="608.50" x2="453.50" y2="620.73" stroke="#2a2a2a" stroke-width="1.1"/>
<line x1="447.50" y1="608.50" x2="460.00" y2="608.50" stroke="#2a2a2a" stroke-width="1.15"/>
<rect x="480.50" y="602.71" width="26.00" height="79.79" fill="#2d4e7d"/>
<line x1="493.50" y1="599.50" x2="493.50" y2="603.21" stroke="#2a2a2a" stroke-width="1.1"/>
<line x1="487.25" y1="599.50" x2="499.75" y2="599.50" stroke="#2a2a2a" stroke-width="1.15"/>
<line x1="354.00" y1="682.50" x2="512.50" y2="682.50" stroke="#222" stroke-width="1.1"/>
<line x1="374.50" y1="682.50" x2="374.50" y2="685.00" stroke="#222" stroke-width="1.1"/>
<line x1="413.50" y1="682.50" x2="413.50" y2="685.00" stroke="#222" stroke-width="1.1"/>
<line x1="453.50" y1="682.50" x2="453.50" y2="685.00" stroke="#222" stroke-width="1.1"/>
<line x1="493.50" y1="682.50" x2="493.50" y2="685.00" stroke="#222" stroke-width="1.1"/>
<text x="316.90" y="626.40" font-size="9.6" text-anchor="middle" textLength="40.5" lengthAdjust="spacingAndGlyphs" transform="rotate(-90 316.90 626.40)">% priming</text>
<text x="328.60" y="625.20" font-size="9.6" text-anchor="middle" textLength="77" lengthAdjust="spacingAndGlyphs" transform="rotate(-90 328.60 625.20)">(CD62P expression)</text>
<text x="374.40" y="696.20" font-size="8.1" text-anchor="middle">vehicle</text>
<text x="413.90" y="696.20" font-size="8.1" text-anchor="middle">PTX</text>
<text x="413.90" y="706.00" font-size="8.1" text-anchor="middle">(1µg/ml)</text>
<text x="453.75" y="696.20" font-size="8.1" text-anchor="middle">vehicle</text>
<text x="493.60" y="696.20" font-size="8.1" text-anchor="middle">PTX</text>
<text x="493.60" y="706.00" font-size="8.1" text-anchor="middle">(1µg/ml)</text>
<text x="10.20" y="740.20" font-size="11.4" font-weight="bold">I</text>
<line x1="55.50" y1="748.38" x2="55.50" y2="864.00" stroke="#222" stroke-width="1.1"/>
<line x1="52.50" y1="750.50" x2="55.50" y2="750.50" stroke="#222" stroke-width="1.1"/>
<text x="49.20" y="753.78" font-size="8.0" text-anchor="end">60</text>
<line x1="52.50" y1="788.50" x2="55.50" y2="788.50" stroke="#222" stroke-width="1.1"/>
<text x="49.20" y="791.32" font-size="8.0" text-anchor="end">40</text>
<line x1="52.50" y1="825.50" x2="55.50" y2="825.50" stroke="#222" stroke-width="1.1"/>
<text x="49.20" y="828.86" font-size="8.0" text-anchor="end">20</text>
<line x1="52.50" y1="863.50" x2="55.50" y2="863.50" stroke="#222" stroke-width="1.1"/>
<text x="49.20" y="866.40" font-size="8.0" text-anchor="end">0</text>
<rect x="67.25" y="789.73" width="47.75" height="73.77" fill="#a5032a"/>
<line x1="91.50" y1="772.50" x2="91.50" y2="790.23" stroke="#2a2a2a" stroke-width="1.1"/>
<line x1="79.62" y1="772.50" x2="102.62" y2="772.50" stroke="#2a2a2a" stroke-width="1.15"/>
<rect x="139.50" y="804.00" width="47.50" height="59.50" fill="#2d4e7d"/>
<line x1="163.50" y1="786.50" x2="163.50" y2="804.50" stroke="#2a2a2a" stroke-width="1.1"/>
<line x1="151.75" y1="786.50" x2="174.75" y2="786.50" stroke="#2a2a2a" stroke-width="1.15"/>
<line x1="55.00" y1="863.50" x2="198.00" y2="863.50" stroke="#222" stroke-width="1.1"/>
<line x1="91.50" y1="863.50" x2="91.50" y2="866.00" stroke="#222" stroke-width="1.1"/>
<line x1="163.50" y1="863.50" x2="163.50" y2="866.00" stroke="#222" stroke-width="1.1"/>
<text x="22.60" y="806.70" font-size="9.0" text-anchor="middle" textLength="71.8" lengthAdjust="spacingAndGlyphs" transform="rotate(-90 22.60 806.70)">% MMP-2 priming</text>
<text x="33.80" y="805.70" font-size="9.0" text-anchor="middle" textLength="118.5" lengthAdjust="spacingAndGlyphs" transform="rotate(-90 33.80 805.70)">(% increase platelet spreading)</text>
<text x="90.90" y="877.00" font-size="8.0" text-anchor="middle">vehicle</text>
<text x="163.00" y="877.00" font-size="8.0" text-anchor="middle">PTX</text>
<text x="163.00" y="886.80" font-size="8.1" text-anchor="middle">(1µg/ml)</text>
<rect x="0.5" y="0.5" width="519" height="895" fill="none" stroke="#000" stroke-width="1.2"/>
</svg>
</body></html>
